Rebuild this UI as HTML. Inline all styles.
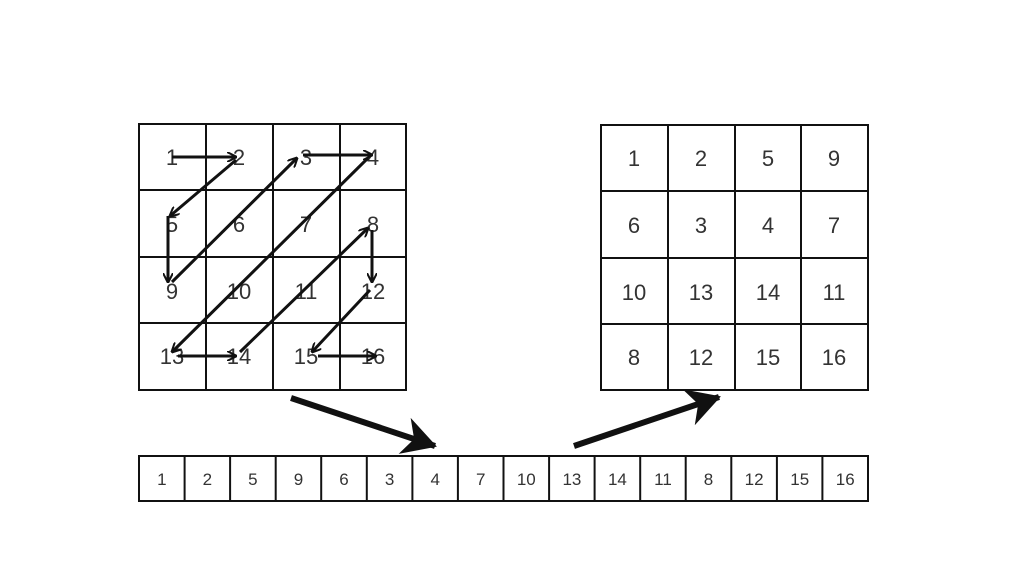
<!DOCTYPE html>
<html><head><style>
body{margin:0;background:#fff;width:1035px;height:562px;overflow:hidden}
svg text{font-family:"Liberation Sans",sans-serif;fill:#333}
</style></head><body>
<svg width="1035" height="562" viewBox="0 0 1035 562">
<defs>
<marker id="a" markerWidth="10" markerHeight="10" refX="9" refY="5" orient="auto" markerUnits="userSpaceOnUse" viewBox="0 0 10 10"><path d="M0,0 L10,5 L0,10" fill="none" stroke="#111" stroke-width="2"/></marker>
<marker id="b" markerWidth="34" markerHeight="38" refX="32" refY="19" orient="auto" markerUnits="userSpaceOnUse" viewBox="0 0 34 38"><path d="M0,0 L34,19 L0,38 L10,19 Z" fill="#111"/></marker>
</defs>
<g stroke="#111" stroke-width="2" fill="none">
<rect x="139" y="124" width="267" height="266"/>
<line x1="206" y1="124" x2="206" y2="390"/><line x1="273" y1="124" x2="273" y2="390"/><line x1="340" y1="124" x2="340" y2="390"/>
<line x1="139" y1="190" x2="406" y2="190"/><line x1="139" y1="257" x2="406" y2="257"/><line x1="139" y1="323" x2="406" y2="323"/>
<rect x="601" y="125" width="267" height="265"/>
<line x1="668" y1="125" x2="668" y2="390"/><line x1="735" y1="125" x2="735" y2="390"/><line x1="801" y1="125" x2="801" y2="390"/>
<line x1="601" y1="191" x2="868" y2="191"/><line x1="601" y1="258" x2="868" y2="258"/><line x1="601" y1="324" x2="868" y2="324"/>
<rect x="139" y="456" width="729" height="45"/>
</g>
<g font-size="22" text-anchor="middle">
<text x="172" y="165">1</text><text x="239" y="165">2</text><text x="306" y="165">3</text><text x="373" y="165">4</text>
<text x="172" y="232">5</text><text x="239" y="232">6</text><text x="306" y="232">7</text><text x="373" y="232">8</text>
<text x="172" y="299">9</text><text x="239" y="299">10</text><text x="306" y="299">11</text><text x="373" y="299">12</text>
<text x="172" y="364">13</text><text x="239" y="364">14</text><text x="306" y="364">15</text><text x="373" y="364">16</text>
<text x="634" y="166">1</text><text x="701" y="166">2</text><text x="768" y="166">5</text><text x="834" y="166">9</text>
<text x="634" y="233">6</text><text x="701" y="233">3</text><text x="768" y="233">4</text><text x="834" y="233">7</text>
<text x="634" y="300">10</text><text x="701" y="300">13</text><text x="768" y="300">14</text><text x="834" y="300">11</text>
<text x="634" y="365">8</text><text x="701" y="365">12</text><text x="768" y="365">15</text><text x="834" y="365">16</text>
</g>
<g stroke="#111" stroke-width="3" fill="none" marker-end="url(#a)">
<line x1="172" y1="157" x2="236" y2="157"/>
<line x1="236" y1="160" x2="170" y2="216"/>
<line x1="168" y1="216" x2="168" y2="282"/>
<line x1="172" y1="282" x2="297" y2="158"/>
<line x1="303" y1="155" x2="372" y2="155"/>
<line x1="368" y1="158" x2="172" y2="352"/>
<line x1="178" y1="356" x2="236" y2="356"/>
<line x1="240" y1="352" x2="368" y2="228"/>
<line x1="372" y1="230" x2="372" y2="282"/>
<line x1="370" y1="290" x2="312" y2="352"/>
<line x1="318" y1="356" x2="376" y2="356"/>
</g>
<g stroke="#111" stroke-width="6" marker-end="url(#b)">
<line x1="291" y1="398" x2="435" y2="446"/>
<line x1="574" y1="446" x2="719" y2="397"/>
</g>
<g stroke="#111" stroke-width="2">
<line x1="184.6" y1="456" x2="184.6" y2="501"/><line x1="230.1" y1="456" x2="230.1" y2="501"/><line x1="275.7" y1="456" x2="275.7" y2="501"/><line x1="321.2" y1="456" x2="321.2" y2="501"/><line x1="366.8" y1="456" x2="366.8" y2="501"/><line x1="412.4" y1="456" x2="412.4" y2="501"/><line x1="457.9" y1="456" x2="457.9" y2="501"/><line x1="503.5" y1="456" x2="503.5" y2="501"/><line x1="549.1" y1="456" x2="549.1" y2="501"/><line x1="594.6" y1="456" x2="594.6" y2="501"/><line x1="640.2" y1="456" x2="640.2" y2="501"/><line x1="685.7" y1="456" x2="685.7" y2="501"/><line x1="731.3" y1="456" x2="731.3" y2="501"/><line x1="776.9" y1="456" x2="776.9" y2="501"/><line x1="822.4" y1="456" x2="822.4" y2="501"/>
</g>
<g font-size="17" text-anchor="middle">
<text x="161.8" y="485">1</text><text x="207.4" y="485">2</text><text x="252.9" y="485">5</text><text x="298.5" y="485">9</text><text x="344" y="485">6</text><text x="389.6" y="485">3</text><text x="435.2" y="485">4</text><text x="480.7" y="485">7</text><text x="526.3" y="485">10</text><text x="571.9" y="485">13</text><text x="617.4" y="485">14</text><text x="663" y="485">11</text><text x="708.5" y="485">8</text><text x="754.1" y="485">12</text><text x="799.7" y="485">15</text><text x="845.2" y="485">16</text>
</g>
</svg>
</body></html>
